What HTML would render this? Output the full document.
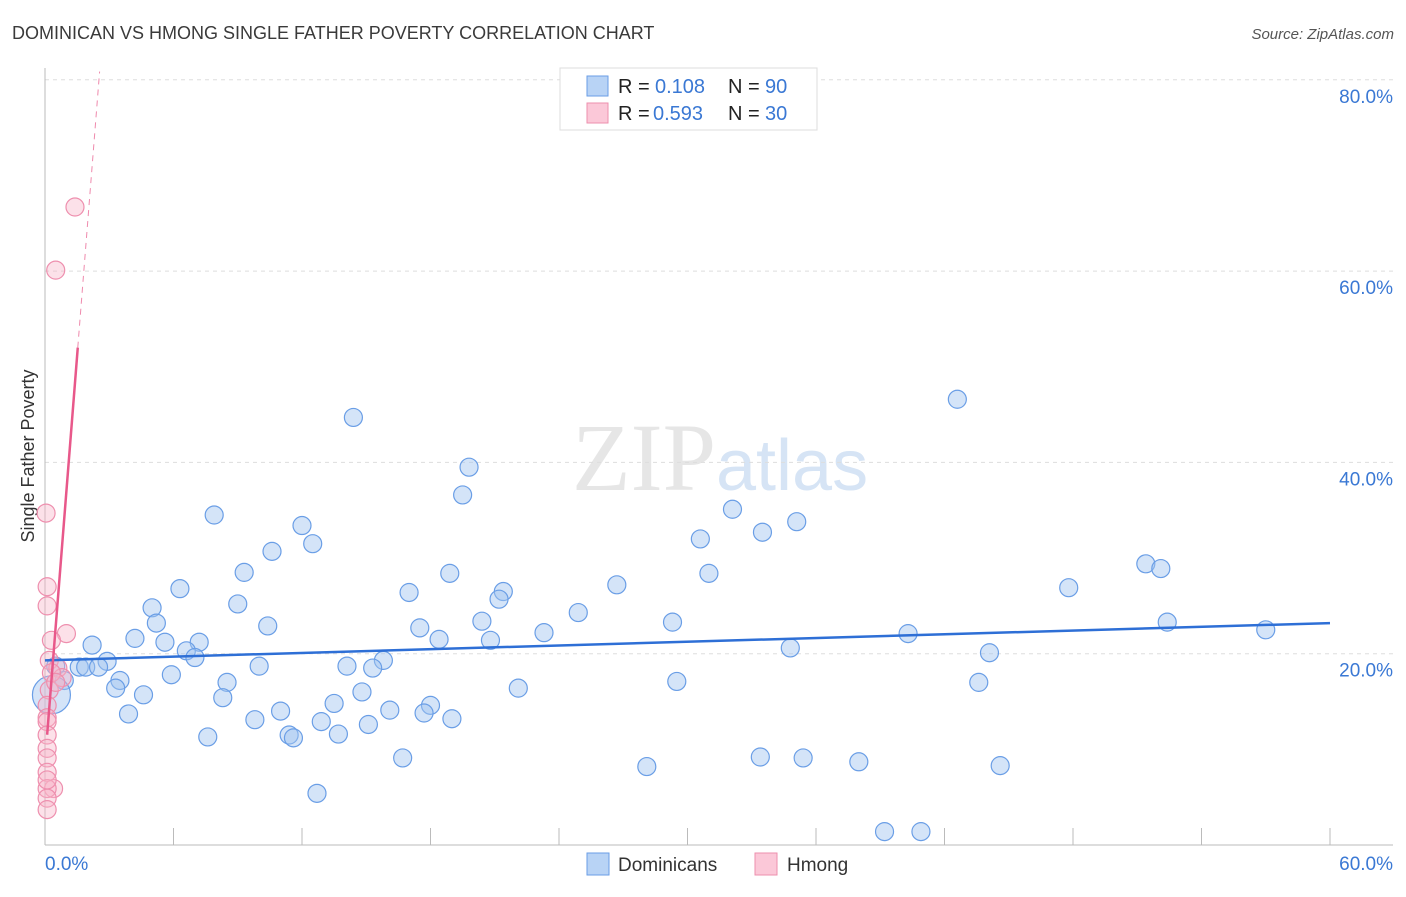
<!DOCTYPE html>
<html><head><meta charset="utf-8"><style>
body{margin:0;background:#fff;font-family:"Liberation Sans",sans-serif}
</style></head><body>
<svg id="chart" width="1406" height="892" xmlns="http://www.w3.org/2000/svg" font-family="Liberation Sans, sans-serif">
<text x="12" y="39" font-size="18" fill="#3a3a3a">DOMINICAN VS HMONG SINGLE FATHER POVERTY CORRELATION CHART</text>
<text x="1394" y="39" font-size="15" fill="#555" text-anchor="end" font-style="italic">Source: ZipAtlas.com</text>
<text x="716" y="490" font-size="96" fill="#e6e6e6" text-anchor="end" font-family="Liberation Serif, serif">ZIP</text>
<text x="716" y="490" font-size="72" fill="#d6e4f5">atlas</text>
<text transform="translate(34,456) rotate(-90)" font-size="18" fill="#333" text-anchor="middle">Single Father Poverty</text>
<g id="grid"></g><g id="axes"></g><g id="pts"></g><g id="lines"></g>
<g>
<rect x="560" y="68" width="257" height="62" fill="#fff" stroke="#ddd"/>
<rect x="587" y="76" width="21" height="20" fill="#b8d3f5" stroke="#6a9ee6"/>
<rect x="587" y="103" width="21" height="20" fill="#fbc8d8" stroke="#ee8fae"/>
<text x="618" y="93" font-size="20" fill="#222">R = </text><text x="655" y="93" font-size="20" fill="#3a78d4">0.108</text>
<text x="728" y="93" font-size="20" fill="#222">N = </text><text x="765" y="93" font-size="20" fill="#3a78d4">90</text>
<text x="618" y="120" font-size="20" fill="#222">R = </text><text x="653" y="120" font-size="20" fill="#3a78d4">0.593</text>
<text x="728" y="120" font-size="20" fill="#222">N = </text><text x="765" y="120" font-size="20" fill="#3a78d4">30</text>
</g>
<g>
<rect x="587" y="853" width="22" height="22" fill="#b8d3f5" stroke="#6a9ee6"/>
<text x="618" y="871" font-size="19" fill="#333">Dominicans</text>
<rect x="755" y="853" width="22" height="22" fill="#fbc8d8" stroke="#ee8fae"/>
<text x="787" y="871" font-size="19" fill="#333">Hmong</text>
</g>
</svg>
<script>
const blueX=[14.4,42.6,19.8,19.5,7.9,32.1,35.1,12.0,33.5,12.5,30.6,10.6,51.4,52.1,9.3,18.9,31.0,26.7,47.8,6.3,17.0,21.4,21.2,9.0,5.0,24.9,5.2,20.4,29.3,52.4,10.4,17.5,4.2,23.3,40.3,5.6,7.2,18.4,20.8,57.0,2.2,6.6,34.8,7.0,44.1,2.9,15.8,0.5,1.6,1.9,2.5,10.0,14.1,15.3,0.9,3.5,5.9,8.5,29.5,43.6,3.3,22.1,14.8,4.6,8.3,13.5,18.0,16.1,11.0,17.7,3.9,9.8,12.9,19.0,15.1,13.7,11.4,7.6,11.6,16.7,33.4,35.4,28.1,38.0,44.6,12.7,39.2,40.9,0.3];
const blueY=[44.7,46.6,39.5,36.6,34.5,35.1,33.8,33.4,32.7,31.5,32.0,30.7,29.4,28.9,28.5,28.4,28.4,27.2,26.9,26.8,26.4,26.5,25.7,25.2,24.8,24.3,23.2,23.4,23.3,23.3,22.9,22.7,21.6,22.2,22.1,21.2,21.2,21.5,21.4,22.5,20.9,20.3,20.6,19.6,20.1,19.2,19.3,18.7,18.6,18.6,18.6,18.7,18.7,18.5,17.2,17.2,17.8,17.0,17.1,17.0,16.4,16.4,16.0,15.7,15.4,14.8,14.6,14.1,14.0,13.8,13.7,13.1,12.9,13.2,12.6,11.6,11.5,11.3,11.2,9.1,9.2,9.1,8.2,8.7,8.3,5.4,1.4,1.4,15.7];
const pinkX=[1.4,0.5,0.05,1.0,0.1,0.1,0.3,0.2,0.6,0.8,0.2,0.1,0.1,0.1,0.1,0.1,0.1,0.1,0.4,0.1,0.1,0.1,0.1,0.3,0.5];
const pinkY=[66.7,60.1,34.7,22.1,27.0,25.0,21.4,19.3,18.5,17.5,16.2,14.6,13.3,12.9,11.5,10.1,9.1,7.6,5.9,5.9,4.9,3.7,6.8,18.0,17.0];
const blueTrend=[19.3,23.2];
const pinkTrend={a:8.7,b:28.3};
const yTicks=[20,40,60,80];
const X=v=>45+v/60*1285, Y=v=>845-v/20*191.3;
const NS="http://www.w3.org/2000/svg";
function mk(p,t,a){const e=document.createElementNS(NS,t);for(const k in a)e.setAttribute(k,a[k]);document.getElementById(p).appendChild(e);return e;}
yTicks.forEach(t=>{
 const g=mk('grid','line',{x1:45,x2:1393,y1:Y(t),y2:Y(t),stroke:'#ddd','stroke-dasharray':'4,4'});
 
 
 const l=mk('grid','text',{x:1393,y:Y(t)+23,'font-size':19,fill:'#3a78d4','text-anchor':'end'});
 l.textContent=t.toFixed(1)+'%';
 
 
});
mk('axes','line',{x1:45,x2:45,y1:68,y2:845,stroke:'#bbb'});
mk('axes','line',{x1:45,x2:1393,y1:845,y2:845,stroke:'#bbb'});
for(let i=1;i<=10;i++){const t=mk('axes','line',{x1:X(i*6),x2:X(i*6),y1:828,y2:845,stroke:'#bbb'});}
let xl=mk('axes','text',{x:45,y:870,'font-size':19,fill:'#3a78d4'});xl.textContent='0.0%';


xl=mk('axes','text',{x:1393,y:870,'font-size':19,fill:'#3a78d4','text-anchor':'end'});xl.textContent='60.0%';


blueX.forEach((x,i)=>{const c=mk('pts','circle',{cx:X(x),cy:Y(blueY[i]),r:i==blueX.length-1?19:9,fill:'rgba(160,195,240,0.45)',stroke:'#6a9ee6','stroke-width':1.2});
 
 });
pinkX.forEach((x,i)=>{const c=mk('pts','circle',{cx:X(x),cy:Y(pinkY[i]),r:9,fill:'rgba(248,180,200,0.4)',stroke:'#ee8fae','stroke-width':1.2});
 
 });
let bl=mk('lines','line',{x1:X(0),y1:Y(blueTrend[0]),x2:X(60),y2:Y(blueTrend[1]),stroke:'#2e6fd6','stroke-width':2.5});


const pf=x=>pinkTrend.a+pinkTrend.b*x;
let pl=mk('lines','line',{x1:X(0.1),y1:Y(pf(0.1)),x2:X(1.53),y2:Y(pf(1.53)),stroke:'#e8588a','stroke-width':2.5});


let pd=mk('lines','line',{x1:X(1.53),y1:Y(pf(1.53)),x2:X(2.55),y2:Y(pf(2.55)),stroke:'#e8588a','stroke-width':1,'stroke-dasharray':'6,5',opacity:0.7});


</script>
</body></html>
